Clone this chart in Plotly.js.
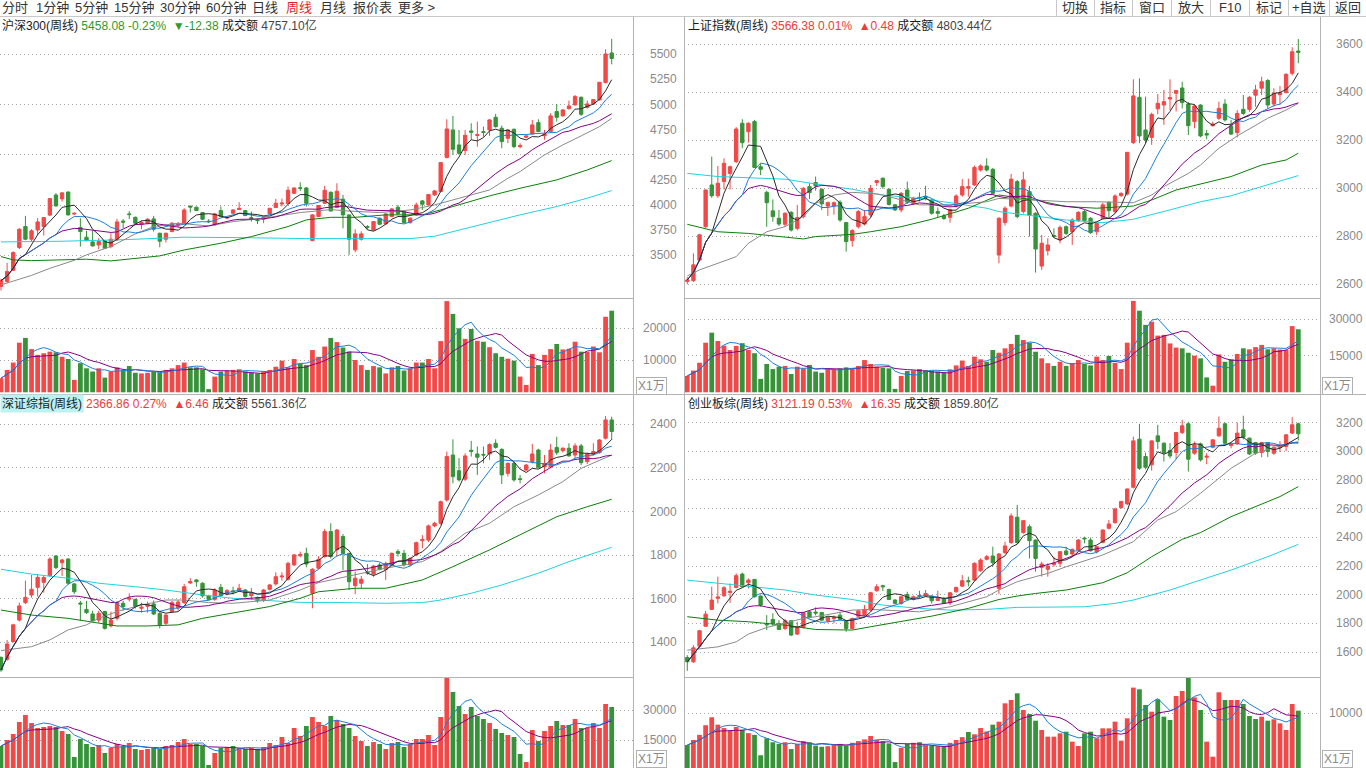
<!DOCTYPE html>
<html><head><meta charset="utf-8">
<script src="https://cdn.plot.ly/plotly-3.0.1.min.js"></script>
<style>html,body{margin:0;padding:0;background:#fff;overflow:hidden}#chart{width:1366px;height:768px}</style>
</head><body><div id="chart"></div>
<script>
// ---------- week index (x categories) ----------
const weekIndex = Array.from({length:101},(_,i)=>i);

// ---------- 沪深300 ----------
const TL_open=[3190,3240,3350,3577,3786,3660,3752,3786,3900,4100,4061,4130,3910,3776,3680,3633,3603,3643,3587,3653,3840,3912,3878,3805,3819,3862,3719,3660,3736,3800,3819,3990,3978,3925,3840,3802,3945,3870,3918,3955,3945,3875,3850,3859,3912,3975,4010,4014,4117,4172,4170,3646,3885,4018,4127,3975,4058,3902,3554,3660,3785,3752,3869,3812,3885,3978,3935,3825,3902,4041,4001,4101,4134,4472,4747,4598,4542,4737,4692,4730,4747,4873,4764,4664,4754,4580,4674,4707,4820,4690,4731,4930,4887,4959,4996,5072,4973,5006,5046,5218,5513];
const TL_high=[3265,3425,3540,3770,3892,3760,3870,3880,4070,4118,4125,4132,3925,3869,3743,3743,3670,3650,3720,3862,3860,3940,3885,3845,3870,3892,3725,3725,3830,3830,3968,3991,3985,3930,3860,3920,3985,3885,3960,4028,3950,3935,3870,3882,3970,4061,4064,4184,4175,4227,4180,3910,4000,4190,4135,4217,4101,3905,3759,3739,3800,3840,3875,3918,3970,4001,3940,3875,4024,4051,4110,4150,4425,4853,4887,4747,4747,4814,4830,4780,4855,4906,4790,4755,4760,4615,4695,4847,4853,4747,4913,5006,4955,5039,5095,5080,5039,5055,5225,5550,5653];
const TL_low=[3150,3225,3345,3560,3650,3640,3700,3696,3890,3985,4034,3895,3905,3587,3640,3587,3560,3565,3570,3645,3770,3860,3800,3760,3810,3736,3580,3627,3730,3780,3810,3925,3940,3850,3820,3795,3880,3860,3910,3950,3890,3835,3812,3819,3905,3970,3985,4010,4110,4140,3985,3640,3880,4010,3935,3970,3769,3504,3530,3646,3760,3745,3800,3805,3880,3905,3815,3815,3895,3951,3995,4090,4130,4465,4499,4499,4499,4648,4581,4680,4688,4770,4565,4615,4565,4565,4665,4700,4725,4650,4725,4830,4880,4950,4990,4887,4959,4995,5040,5210,5400];
const TL_close=[3248,3338,3527,3759,3660,3743,3832,3875,4064,3991,4121,3902,3918,3736,3646,3593,3636,3570,3660,3832,3830,3905,3819,3825,3859,3759,3640,3719,3819,3812,3951,3980,3945,3859,3835,3912,3885,3878,3951,3968,3895,3865,3845,3878,3968,4018,4020,4147,4170,4165,4018,3902,3995,4147,3941,4137,3902,3660,3713,3713,3778,3835,3809,3912,3961,3912,3825,3869,4001,4008,4104,4140,4422,4757,4555,4515,4694,4725,4700,4722,4847,4780,4631,4747,4581,4592,4688,4797,4731,4705,4887,4873,4946,4986,5079,4903,5006,5049,5221,5503,5458.08];
const TL_vol=[4400,7000,9300,15500,17000,13500,11700,12200,12700,12500,11100,10400,3900,9100,7500,6500,7500,4600,6500,7800,7000,8200,6100,5900,6100,6500,6100,7000,7500,8500,9300,7800,7800,7200,1000,4900,6500,6800,7000,7200,6500,6200,5900,6500,7000,8000,9900,7800,10400,9000,8500,13200,11100,14300,17000,15700,14000,12700,10100,8500,7000,8200,7800,5900,7800,8200,6800,7500,9300,9300,10400,7500,16000,28500,24500,20000,16700,19800,16100,15800,14100,12200,11100,10500,9900,4900,2300,12000,8500,11700,13500,15100,13400,13600,15800,12700,12600,14300,12500,23600,25500];
const TL_maGrayIdx=[0,5,8,12,14,18,22,25,29,34,38,43,49,54,57,62,67,71,76,80,83,85,89,92,95,98,100];
const TL_maGray=[3205,3300,3370,3450,3504,3587,3713,3786,3819,3792,3835,3869,3925,3955,3940,3925,3951,4001,4084,4150,4266,4333,4499,4598,4688,4780,4863];
const TL_maGreenIdx=[0,2,5,11,14,18,22,26,30,36,41,47,50,54,58,63,69,71,74,80,85,91,96,100];
const TL_maGreen=[3487,3454,3447,3454,3461,3444,3471,3494,3553,3620,3686,3786,3852,3878,3878,3902,3902,3935,3985,4091,4167,4250,4349,4442];
const TL_maCyanIdx=[0,10,20,30,40,50,60,67,71,74,80,85,91,96,100];
const TL_maCyan=[3633,3640,3655,3680,3675,3666,3666,3666,3690,3736,3825,3902,3985,4068,4144];

// ---------- 上证指数 ----------
const TR_open=[2612,2615,2701,2840,3014,2969,3028,3062,3111,3271,3236,3278,3090,2983,2906,2875,2850,2900,2833,2882,3007,3024,2996,2926,2926,2942,2857,2782,2840,2851,2889,3024,3042,2996,2931,2910,2993,2937,2962,2966,2951,2903,2885,2879,2926,2972,3000,3014,3076,3093,3079,2722,2857,2926,3028,2903,2986,2896,2676,2740,2803,2785,2840,2819,2865,2903,2875,2819,2875,2942,2903,2969,2976,3190,3379,3243,3212,3331,3347,3372,3396,3418,3351,3278,3347,3228,3261,3292,3351,3260,3232,3329,3329,3388,3417,3449,3351,3390,3399,3479,3572];
const TR_high=[2630,2729,2810,2995,3132,3093,3125,3095,3255,3288,3275,3285,3104,2990,2954,2910,2900,2905,2931,3005,3021,3049,3000,2945,2945,2950,2860,2830,2910,2910,3014,3035,3045,3000,2935,2985,3028,2965,2983,3010,2955,2920,2893,2915,2975,3038,3040,3095,3100,3125,3085,2880,2925,3060,3035,3069,3010,2900,2806,2792,2833,2845,2845,2875,2905,2910,2880,2860,2940,2945,2975,2983,3150,3454,3458,3382,3315,3393,3410,3454,3410,3444,3360,3350,3350,3243,3278,3361,3371,3285,3326,3389,3385,3431,3465,3455,3417,3426,3479,3588,3622];
const TR_low=[2600,2610,2695,2835,2960,2960,2995,2995,3105,3167,3190,3085,3055,2840,2861,2843,2840,2820,2825,2875,2955,2990,2910,2885,2890,2860,2736,2757,2833,2845,2880,3010,2998,2928,2905,2900,2935,2930,2945,2950,2890,2880,2868,2857,2920,2965,2965,3010,3070,3070,2975,2688,2845,2920,2875,2895,2799,2649,2660,2720,2795,2771,2805,2764,2860,2860,2810,2805,2870,2875,2895,2965,2970,3185,3188,3185,3181,3308,3264,3326,3320,3333,3222,3250,3212,3204,3257,3285,3278,3222,3212,3305,3319,3340,3389,3333,3340,3347,3395,3470,3521];
const TR_close=[2618,2681,2806,2993,2969,3021,3104,3090,3247,3190,3271,3087,3079,2940,2882,2851,2896,2826,2878,3000,2982,3010,2935,2940,2940,2868,2778,2824,2903,2882,3000,3032,3007,2933,2910,2979,2942,2958,2958,2962,2896,2896,2874,2912,2968,3007,3007,3087,3093,3076,2979,2875,2917,3038,2882,3035,2889,2747,2771,2764,2800,2837,2812,2868,2899,2865,2815,2854,2931,2907,2968,2979,3150,3385,3218,3201,3308,3354,3361,3378,3407,3357,3261,3343,3218,3222,3268,3333,3285,3226,3312,3312,3379,3410,3444,3347,3396,3398,3475,3569,3566.38];
const TR_vol=[6700,8900,12100,20300,24400,21000,19100,17300,19000,20100,17300,16000,5500,11600,9500,10500,10800,7500,10500,9800,11200,8500,8000,9800,9500,9800,10200,10000,10800,13200,11600,10500,10000,9800,1400,6700,8700,9000,9500,9100,8800,8500,8000,9400,11000,13000,10800,14600,13500,12500,17300,16200,18000,19800,23500,21400,20300,16600,13900,11900,10800,12500,10800,12000,13200,11600,11000,14600,13200,14900,12000,9500,20300,37400,33400,27600,28900,23200,23500,20000,18300,18000,16200,15000,13900,6100,2700,15500,12500,13500,15700,18000,17600,18500,19400,17600,18000,17500,17300,27100,25800];
const TR_maGrayIdx=[0,2,8,10,13,16,19,21,24,27,30,32,38,43,49,51,57,62,67,73,76,78,82,84,87,90,95,98,100];
const TR_maGray=[2635,2660,2715,2771,2819,2840,2882,2937,2972,2983,2979,2972,2931,2931,2944,2958,2951,2944,2944,2940,2972,3007,3062,3097,3167,3218,3292,3326,3354];
const TR_maGreenIdx=[0,5,10,16,19,21,27,30,35,40,46,51,57,62,67,73,76,80,84,89,94,98,100];
const TR_maGreen=[2850,2819,2812,2796,2789,2799,2808,2819,2840,2871,2917,2972,2951,2924,2917,2926,2951,2993,3018,3049,3097,3118,3146];
const TR_maCyanIdx=[0,5,10,16,21,27,32,38,43,49,51,57,62,68,73,79,84,89,95,100];
const TR_maCyan=[3062,3049,3044,3038,3018,2996,2972,2958,2940,2917,2903,2885,2868,2857,2871,2910,2944,2969,3014,3053];

// ---------- 深证综指 ----------
const BL_open=[1331,1322,1403,1502,1582,1617,1652,1675,1706,1796,1765,1782,1668,1580,1551,1530,1502,1541,1475,1510,1579,1598,1597,1556,1565,1576,1533,1487,1541,1558,1582,1672,1686,1671,1613,1597,1652,1622,1636,1640,1640,1614,1606,1594,1643,1668,1700,1689,1755,1797,1808,1625,1740,1793,1908,1824,1885,1808,1660,1671,1722,1713,1755,1735,1753,1816,1808,1755,1801,1866,1869,1934,1946,2053,2259,2187,2148,2281,2264,2262,2264,2313,2285,2175,2221,2150,2190,2229,2282,2205,2206,2294,2279,2290,2259,2301,2229,2264,2270,2336,2420];
const BL_high=[1335,1411,1485,1582,1683,1709,1713,1705,1790,1800,1782,1785,1672,1590,1590,1545,1545,1545,1541,1590,1590,1625,1600,1582,1587,1592,1540,1530,1590,1594,1668,1694,1690,1675,1618,1648,1668,1645,1655,1668,1645,1649,1610,1645,1668,1721,1721,1770,1805,1816,1834,1740,1795,1920,1946,1920,1897,1810,1724,1704,1759,1755,1765,1770,1812,1827,1824,1790,1862,1892,1940,1953,2050,2275,2331,2245,2267,2324,2298,2298,2313,2331,2290,2225,2228,2168,2218,2310,2288,2259,2310,2343,2295,2313,2313,2310,2270,2313,2332,2438,2435];
const BL_low=[1265,1315,1400,1495,1575,1605,1610,1628,1700,1735,1704,1665,1622,1499,1530,1495,1490,1458,1468,1500,1545,1587,1555,1536,1536,1525,1464,1480,1535,1545,1575,1668,1655,1605,1592,1590,1608,1615,1620,1632,1605,1597,1582,1585,1638,1660,1683,1683,1750,1790,1744,1556,1735,1788,1785,1793,1732,1640,1620,1648,1710,1701,1730,1686,1748,1793,1748,1748,1795,1831,1860,1928,1940,2045,2129,2137,2140,2252,2168,2221,2237,2288,2126,2160,2137,2129,2185,2220,2198,2175,2198,2259,2270,2252,2244,2213,2218,2259,2265,2330,2328];
const BL_close=[1273,1392,1480,1567,1606,1643,1698,1697,1782,1743,1778,1671,1632,1576,1536,1499,1533,1464,1502,1582,1564,1602,1564,1561,1572,1530,1480,1525,1582,1585,1655,1679,1678,1613,1597,1640,1614,1637,1632,1648,1610,1625,1591,1640,1663,1701,1704,1762,1801,1803,1759,1735,1781,1908,1793,1915,1808,1678,1694,1689,1718,1750,1735,1762,1808,1808,1755,1785,1857,1872,1934,1946,2045,2252,2160,2145,2255,2276,2249,2259,2307,2294,2168,2221,2145,2147,2213,2264,2203,2221,2282,2270,2290,2255,2301,2224,2264,2275,2328,2420,2366.86];
const BL_vol=[12000,15000,18000,24000,27500,23500,21000,21500,22000,21500,19500,18000,6500,15500,13000,11500,12500,8500,11000,13000,12000,13500,10500,10000,10500,11000,10500,12000,12500,14000,15500,13000,13000,12000,2500,8500,11000,11500,12000,11000,10500,11000,10500,11500,13500,12500,16500,13500,21000,17000,22000,26500,24000,22000,27000,25000,23000,21000,17000,14500,12000,14000,13000,10500,13500,14000,11500,13000,15500,15500,17500,12500,26500,46000,39000,32000,28000,31500,27000,25500,23500,20500,18500,17500,16500,8000,4000,20000,14500,19500,22000,24500,22500,22500,25500,21000,21000,23500,21000,33000,31500];
const BL_maGrayIdx=[0,5,8,11,14,16,19,23,27,30,34,38,44,49,52,58,63,69,72,76,80,84,88,92,95,100];
const BL_maGray=[1362,1380,1411,1457,1480,1510,1541,1571,1594,1594,1582,1579,1594,1640,1674,1709,1740,1770,1816,1900,1946,2022,2076,2137,2198,2259];
const BL_maGreenIdx=[0,5,11,16,19,24,29,33,38,44,49,52,58,63,69,71,74,80,85,91,96,100];
const BL_maGreen=[1548,1525,1510,1487,1475,1475,1480,1510,1533,1564,1602,1632,1648,1648,1686,1709,1747,1824,1892,1976,2022,2056];
const BL_maCyanIdx=[0,5,11,16,22,27,33,38,44,49,54,58,63,69,72,77,82,88,93,100];
const BL_maCyan=[1735,1713,1694,1671,1655,1640,1617,1602,1591,1583,1583,1582,1579,1582,1594,1625,1663,1717,1770,1836];

// ---------- 创业板综 ----------
const BR_open=[1563,1533,1642,1781,1898,1975,1993,2016,2051,2144,2084,2107,1991,1795,1828,1800,1765,1819,1726,1772,1881,1879,1877,1819,1833,1858,1819,1765,1851,1858,1893,2028,2063,2037,1963,1940,2002,1967,1995,1991,1991,1960,1974,1944,2021,2060,2098,2102,2167,2247,2270,2044,2293,2363,2540,2433,2474,2381,2191,2177,2210,2219,2305,2284,2312,2395,2381,2300,2365,2463,2502,2607,2633,2749,3084,2963,2905,3107,3056,3005,2991,3130,3191,2986,3051,2958,3028,3107,3191,3040,3051,3149,3091,3060,2991,3060,2986,3025,3033,3126,3191];
const BR_high=[1579,1649,1755,1888,2056,2126,2060,2079,2149,2154,2114,2110,1995,1858,1870,1823,1830,1823,1812,1881,1890,1912,1880,1850,1856,1881,1823,1840,1895,1928,2021,2074,2070,2042,1970,1995,2021,1995,2028,2033,1995,2028,1986,2018,2056,2137,2126,2225,2254,2277,2335,2290,2370,2567,2626,2520,2490,2385,2230,2219,2265,2305,2335,2323,2388,2405,2398,2340,2455,2521,2605,2655,2740,3102,3191,2991,3075,3184,3060,3056,3135,3219,3205,3067,3060,2986,3084,3242,3200,3060,3200,3247,3095,3065,3065,3065,3035,3070,3120,3237,3200];
const BR_low=[1470,1525,1635,1777,1893,1940,1985,1944,2045,2050,2044,1980,1916,1754,1781,1754,1754,1712,1719,1765,1835,1856,1815,1805,1800,1820,1742,1758,1845,1850,1888,2021,2026,1963,1935,1930,1960,1960,1975,1985,1940,1955,1935,1928,2015,2055,2058,2095,2160,2240,2195,2005,2285,2355,2355,2425,2253,2160,2126,2126,2195,2195,2270,2265,2305,2358,2300,2288,2358,2455,2495,2600,2625,2740,2870,2874,2865,3014,2928,2950,2944,3120,2858,2975,2928,2909,3020,3100,3050,3020,3045,3081,2975,2975,2958,2960,2975,2995,3000,3120,3075];
const BR_close=[1533,1630,1749,1865,1963,1985,2049,2024,2133,2056,2102,1986,1928,1791,1800,1758,1819,1719,1772,1874,1842,1872,1823,1842,1842,1828,1765,1835,1888,1898,2014,2056,2056,1967,1940,1986,1967,1986,1988,2009,1958,1975,1940,2014,2051,2098,2091,2219,2242,2265,2223,2284,2340,2549,2363,2516,2377,2253,2214,2200,2221,2300,2281,2316,2381,2390,2307,2335,2451,2493,2598,2649,2737,3072,2881,2888,3072,3067,2991,2967,3130,3177,2944,3044,2940,2965,3079,3160,3056,3049,3126,3098,2981,2986,3060,2998,3028,3032,3114,3184,3121.19];
const BR_vol=[4400,5300,6200,7900,9300,8000,7400,6900,7600,7100,6500,6200,2600,5600,4900,4600,4900,3700,4600,5100,4900,4300,4100,4200,4400,4600,4300,4800,5100,5400,6000,5300,5100,4700,1400,3900,4600,4800,4900,4400,4300,4200,4200,4800,5300,5800,6700,6300,7400,6800,8000,8520,11760,12350,13530,10580,9880,8700,7060,5880,5880,6470,6760,5000,4230,6470,6760,5590,7350,7350,8530,5180,9120,14530,14240,11470,10290,12470,9410,8820,13060,13940,16290,12820,10580,5000,2350,13710,12350,12350,12350,11640,9530,9000,9410,8700,8940,8230,7060,11640,10470];
const BR_maGrayIdx=[0,5,8,10,13,16,19,21,24,27,30,32,35,38,43,49,51,54,57,59,62,68,73,77,80,84,89,93,97,100];
const BR_maGray=[1614,1637,1672,1726,1772,1805,1835,1847,1870,1893,1898,1893,1888,1881,1916,1986,2033,2091,2126,2149,2195,2277,2370,2521,2579,2707,2881,2986,3037,3067];
const BR_maGreenIdx=[0,5,10,16,21,27,30,35,40,46,51,54,57,62,68,72,76,81,84,89,93,97,100];
const BR_maGreen=[1847,1823,1812,1788,1758,1754,1777,1812,1851,1905,1967,1991,2009,2033,2084,2153,2265,2386,2433,2544,2614,2684,2753];
const BR_maCyanIdx=[0,5,10,16,21,27,32,38,43,49,54,57,65,70,73,79,84,89,95,100];
const BR_maCyan=[2102,2079,2056,2033,1998,1967,1928,1905,1893,1898,1912,1912,1916,1940,1963,2033,2102,2172,2265,2351];

// ---------- tick labels ----------
const TL_priceTicks=[5500,5250,5000,4750,4500,4250,4000,3750,3500];
const TL_priceGrid=[5500,5000,4500,4000,3500];
const TR_priceTicks=[3600,3400,3200,3000,2800,2600];
const BL_priceTicks=[2400,2200,2000,1800,1600,1400];
const BR_priceTicks=[3200,3000,2800,2600,2400,2200,2000,1800,1600];
const TL_volTicks=[20000,10000];
const TR_volTicks=[30000,15000];
const BL_volTicks=[30000,15000];
const BR_volTicks=[10000];

// ---------- header texts ----------
const names=['沪深300(周线)','上证指数(周线)','深证综指(周线)','创业板综(周线)'];
const lastPrice=['5458.08','3566.38','2366.86','3121.19'];
const pctChg=['-0.23%','0.01%','0.27%','0.53%'];
const ptChg=['▼-12.38','▲0.48','▲6.46','▲16.35'];
const turnover=['4757.10亿','4803.44亿','5561.36亿','1859.80亿'];
const toolbarItems=['分时','1分钟','5分钟','15分钟','30分钟','60分钟','日线','周线','月线','报价表','更多 >'];
const toolbarButtons=['切换','指标','窗口','放大','F10','标记','+自选','返回'];

// ---------- drawing ----------
const W=1366,H=768;
const px=x=>x/W, py=y=>1-y/H;
const RED='#f24848', GREEN='#36933a';
const FONT='"Liberation Sans", Arial, "Noto Sans CJK SC", sans-serif';
function ma(arr,n){return arr.map((_,i)=>{const s=Math.max(0,i-n+1);let t=0;for(let k=s;k<=i;k++)t+=arr[k];return t/(i-s+1);});}

const panels=[
 {o:TL_open,h:TL_high,l:TL_low,c:TL_close,v:TL_vol,gray:[TL_maGrayIdx,TL_maGray],green:[TL_maGreenIdx,TL_maGreen],cyan:[TL_maCyanIdx,TL_maCyan],
  xd:[0,633],yp:[18,298],yv:[299,393],xr:[-0.164,103.49],pr:[3075,5861],vr:[-220,29160],
  pt:TL_priceTicks,pg:TL_priceGrid,vt:TL_volTicks,lx:679,hx:0,hy:25,x1:636,x1y:386},
 {o:TR_open,h:TR_high,l:TR_low,c:TR_close,v:TR_vol,gray:[TR_maGrayIdx,TR_maGray],green:[TR_maGreenIdx,TR_maGreen],cyan:[TR_maCyanIdx,TR_maCyan],
  xd:[684,1320],yp:[18,298],yv:[299,393],xr:[-0.54,103.55],pr:[2542.9,3709.6],vr:[-287,38187],
  pt:TR_priceTicks,pg:TR_priceTicks,vt:TR_volTicks,lx:1365,hx:686,hy:25,x1:1322,x1y:386},
 {o:BL_open,h:BL_high,l:BL_low,c:BL_close,v:BL_vol,gray:[BL_maGrayIdx,BL_maGray],green:[BL_maGreenIdx,BL_maGreen],cyan:[BL_maCyanIdx,BL_maCyan],
  xd:[0,633],yp:[395,677],yv:[678,768],xr:[-0.164,103.49],pr:[1240.9,2534.4],vr:[1000,46000],
  pt:BL_priceTicks,pg:BL_priceTicks,vt:BL_volTicks,lx:679,hx:0,hy:403,x1:636,x1y:759,hl:true},
 {o:BR_open,h:BR_high,l:BR_low,c:BR_close,v:BR_vol,gray:[BR_maGrayIdx,BR_maGray],green:[BR_maGreenIdx,BR_maGreen],cyan:[BR_maCyanIdx,BR_maCyan],
  xd:[684,1320],yp:[395,677],yv:[678,768],xr:[-0.54,103.55],pr:[1427,3391.6],vr:[353,16229],
  pt:BR_priceTicks,pg:BR_priceTicks,vt:BR_volTicks,lx:1365,hx:686,hy:403,x1:1322,x1y:759}
];

const traces=[], annotations=[], shapes=[];
const layout={width:W,height:H,margin:{l:0,r:0,t:0,b:0},paper_bgcolor:'#ffffff',plot_bgcolor:'#ffffff',
  showlegend:false,boxgap:0.22,bargap:0.2,hovermode:false};

panels.forEach((p,k)=>{
  const a=2*k+1, b=2*k+2;
  const xa='x'+(a===1?'':a), ya='y'+(a===1?'':a), xb='x'+b, yb='y'+b;
  const xk='xaxis'+(a===1?'':a), yk='yaxis'+(a===1?'':a);
  const gridStyle={showgrid:true,gridcolor:'#a6a6a6',griddash:'1px,3px',gridwidth:1,zeroline:false,showline:false,
    showticklabels:false,ticks:'',tickmode:'array',fixedrange:true};
  layout[xk]={domain:[px(p.xd[0]),px(p.xd[1])],range:p.xr,visible:false,fixedrange:true,rangeslider:{visible:false},anchor:ya};
  layout['xaxis'+b]={domain:[px(p.xd[0]),px(p.xd[1])],range:p.xr,visible:false,fixedrange:true,anchor:yb};
  layout[yk]=Object.assign({},gridStyle,{domain:[py(p.yp[1]),py(p.yp[0])],range:p.pr,tickvals:p.pg,anchor:xa});
  layout['yaxis'+b]=Object.assign({},gridStyle,{domain:[py(p.yv[1]),py(p.yv[0])],range:p.vr,tickvals:p.vt,anchor:xb});

  traces.push({type:'candlestick',x:weekIndex,open:p.o,high:p.h,low:p.l,close:p.c,xaxis:xa,yaxis:ya,
    increasing:{line:{color:RED,width:1},fillcolor:RED},decreasing:{line:{color:GREEN,width:1},fillcolor:GREEN},
    whiskerwidth:0,hoverinfo:'skip'});
  const line=(x,y,color,ax,ay)=>traces.push({type:'scatter',mode:'lines',x,y,xaxis:ax,yaxis:ay,
    line:{color,width:1},hoverinfo:'skip'});
  line(p.cyan[0],p.cyan[1],'#1fd3e0',xa,ya);
  line(p.green[0],p.green[1],'#0a800a',xa,ya);
  line(p.gray[0],p.gray[1],'#8a8a8a',xa,ya);
  line(weekIndex,ma(p.c,20),'#870087',xa,ya);
  line(weekIndex,ma(p.c,10),'#1b7fd9',xa,ya);
  line(weekIndex,ma(p.c,5),'#2a2a2a',xa,ya);

  traces.push({type:'bar',x:weekIndex,y:p.v,xaxis:xb,yaxis:yb,width:0.78,
    marker:{color:p.c.map((c,i)=>c>=p.o[i]?RED:GREEN),line:{width:0}},hoverinfo:'skip'});
  line(weekIndex,ma(p.v,10),'#870087',xb,yb);
  line(weekIndex,ma(p.v,5),'#1b7fd9',xb,yb);

  const lab=(val,yr)=>annotations.push({xref:'paper',yref:yr,x:px(p.lx),y:val,xanchor:'right',yanchor:'middle',
    text:String(val),showarrow:false,font:{family:FONT,size:12,color:'#8a8a8a'}});
  p.pt.forEach(v=>lab(v,ya));
  p.vt.forEach(v=>lab(v,yb));

  annotations.push({xref:'paper',yref:'paper',x:px(p.x1),y:py(p.x1y),xanchor:'left',yanchor:'middle',text:'X1万',
    showarrow:false,bordercolor:'#b0b0b0',borderwidth:1,borderpad:1,font:{family:FONT,size:12,color:'#8a8a8a'}});

  const up=!ptChg[k].startsWith('▼');
  const col=up?'#ee3b3b':'#2c9a2c';
  if(p.hl){
    annotations.push({xref:'paper',yref:'paper',x:px(p.hx),y:py(p.hy),xanchor:'left',yanchor:'middle',text:names[k],
      showarrow:false,bgcolor:'#bdf2f2',borderpad:1,font:{family:FONT,size:12,color:'#1a1a1a'}});
    annotations.push({xref:'paper',yref:'paper',x:px(p.hx+84),y:py(p.hy),xanchor:'left',yanchor:'middle',
      text:`<span style="color:${col}">${lastPrice[k]} ${pctChg[k]}  ${ptChg[k]}</span> 成交额 <span style="color:#444">${turnover[k]}</span>`,
      showarrow:false,font:{family:FONT,size:12,color:'#1a1a1a'}});
  } else {
    annotations.push({xref:'paper',yref:'paper',x:px(p.hx),y:py(p.hy),xanchor:'left',yanchor:'middle',
      text:`${names[k]} <span style="color:${col}">${lastPrice[k]} ${pctChg[k]}  ${ptChg[k]}</span> 成交额 <span style="color:#444">${turnover[k]}</span>`,
      showarrow:false,font:{family:FONT,size:12,color:'#1a1a1a'}});
  }
});

// toolbar
const tbX=[0,34,73,112,158,204,250,284,318,351,396];
toolbarItems.forEach((t,i)=>annotations.push({xref:'paper',yref:'paper',x:px(tbX[i]),y:py(8),xanchor:'left',yanchor:'middle',
  text:t,showarrow:false,font:{family:FONT,size:13,color:t==='周线'?'#e0282c':'#333333'}}));
const btnSep=[1056,1094,1132,1171,1210,1249,1288,1329,1366];
toolbarButtons.forEach((t,i)=>annotations.push({xref:'paper',yref:'paper',x:px((btnSep[i]+btnSep[i+1])/2),y:py(8),
  xanchor:'center',yanchor:'middle',text:t,showarrow:false,font:{family:FONT,size:13,color:'#333333'}}));

// frame lines
const L=(x0,y0,x1,y1,c)=>shapes.push({type:'line',xref:'paper',yref:'paper',x0:px(x0),y0:py(y0),x1:px(x1),y1:py(y1),line:{color:c||'#b4b4b4',width:1}});
L(0,16.5,1366,16.5,'#c8c8c8');
btnSep.slice(0,8).forEach(x=>L(x+0.5,0,x+0.5,16.5,'#c8c8c8'));
L(633.5,16.5,633.5,768); L(684.5,16.5,684.5,768); L(1320.5,16.5,1320.5,768);
L(0,298.5,633.5,298.5); L(684.5,298.5,1320.5,298.5);
L(0,394.5,1366,394.5);
L(0,677.5,633.5,677.5); L(684.5,677.5,1320.5,677.5);

layout.annotations=annotations; layout.shapes=shapes;
Plotly.newPlot('chart',traces,layout,{displayModeBar:false,staticPlot:true});
</script></body></html>
